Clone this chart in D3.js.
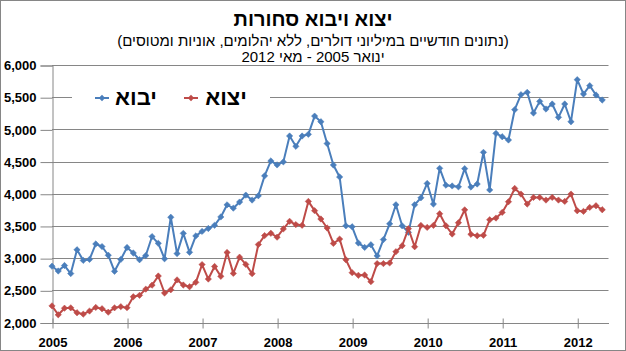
<!DOCTYPE html>
<html><head><meta charset="utf-8">
<script src="https://cdn.jsdelivr.net/npm/d3@7/dist/d3.min.js"></script>
<style>
html,body{margin:0;padding:0;background:#fff;}
svg{display:block;font-family:"Liberation Sans",Arial,sans-serif;}
</style></head>
<body><svg id="chart" width="626" height="351"></svg>
<script>
// ---- data ----
const titleText = "יצוא ויבוא סחורות";
const subtitleText = "(נתונים חודשיים במיליוני דולרים, ללא יהלומים, אוניות ומטוסים)";
const periodText = "ינואר 2005 - מאי 2012";
const seriesNames = ["יבוא", "יצוא"];
const yearLabels = ["2005","2006","2007","2008","2009","2010","2011","2012"];
const yTicks = [2000,2500,3000,3500,4000,4500,5000,5500,6000];
const imports = [2875,2800,2885,2760,3130,2965,2980,3220,3180,3045,2795,2980,
  3165,3080,2975,3040,3335,3230,2990,3635,3070,3385,3090,3345,
  3415,3460,3510,3640,3828,3776,3871,3979,3902,3969,4278,4510,
  4448,4495,4897,4737,4897,4923,5206,5119,4780,4447,4261,3502,
  3487,3234,3166,3208,3035,3288,3533,3829,3502,3400,3829,3937,
  4160,3839,4395,4133,4121,4107,4390,4104,4151,4643,4060,4938,
  4886,4835,5306,5539,5575,5254,5435,5316,5394,5187,5394,5119,
  5772,5549,5679,5534,5456];
const exports = [2258,2120,2222,2228,2152,2130,2178,2234,2214,2160,2228,2246,
  2230,2400,2422,2518,2580,2722,2458,2508,2662,2582,2555,2624,
  2900,2675,2870,2717,3088,2763,3015,2902,2758,3211,3350,3386,
  3325,3454,3572,3521,3510,3881,3737,3608,3468,3228,3296,2975,
  2774,2733,2738,2634,2915,2915,2925,3100,3192,3458,3177,3508,
  3477,3508,3689,3503,3374,3550,3750,3370,3348,3355,3596,3622,
  3710,3876,4083,3995,3840,3943,3943,3902,3943,3902,3881,3995,
  3736,3726,3788,3814,3752];
const colors = ["#4a7ebb", "#be4b48"];

// ---- layout ----
const svg = d3.select("#chart");
const W = 626, H = 351;
const mLeft = 52, mRight = 608.5, mTop = 65, mBottom = 322.5;
const x = d3.scaleLinear().domain([0, 89]).range([mLeft, mRight]);
const y = d3.scaleLinear().domain([2000, 6000]).range([mBottom, mTop]);

svg.append("rect").attr("x",0).attr("y",0).attr("width",W).attr("height",H).attr("fill","#fff");
svg.append("rect").attr("x",0.5).attr("y",0.5).attr("width",W-1).attr("height",H-1)
  .attr("fill","none").attr("stroke","#868686");

// titles
svg.append("text").attr("x",313).attr("y",26).attr("text-anchor","middle")
  .attr("font-size",20).attr("font-weight","bold").text(titleText);
svg.append("text").attr("x",313).attr("y",46).attr("text-anchor","middle")
  .attr("font-size",15).text(subtitleText);
svg.append("text").attr("x",313).attr("y",62).attr("text-anchor","middle")
  .attr("font-size",15).text(periodText);

// gridlines
svg.append("g").selectAll("line").data(yTicks.filter(d=>d>2000)).join("line")
  .attr("x1",mLeft).attr("x2",mRight).attr("y1",d=>Math.round(y(d))+0.5).attr("y2",d=>Math.round(y(d))+0.5)
  .attr("stroke","#868686").attr("stroke-width",1);

// y axis
const yAxis = d3.axisLeft(y).tickValues(yTicks).tickFormat(d3.format(",")).tickSize(12).tickPadding(4);
const gy = svg.append("g").attr("transform",`translate(${mLeft+0.5},0.5)`).call(yAxis);
gy.selectAll("line,path").attr("stroke","#868686");
gy.selectAll("text").attr("font-size",13).attr("font-weight","bold").attr("fill","#000")
  .attr("font-family","'Liberation Sans',Arial,sans-serif");

// x axis (crossing ticks)
const xTickIdx = yearLabels.map((d,i)=>i*12);
const xAxis = d3.axisBottom(x).tickValues(xTickIdx).tickFormat((d,i)=>yearLabels[i]).tickSize(0).tickPadding(14);
const gx = svg.append("g").attr("transform",`translate(0.5,${Math.round(mBottom)+0.5})`).call(xAxis);
gx.select("path").attr("stroke","#868686").attr("d",`M${mLeft},0H${mRight}`);
gx.selectAll(".tick").append("line").attr("y1",-5).attr("y2",5).attr("stroke","#868686");
gx.selectAll("text").attr("font-size",13).attr("font-weight","bold").attr("fill","#000")
  .attr("font-family","'Liberation Sans',Arial,sans-serif");

// series
const diamond = d3.symbol().type(d3.symbolSquare).size(20);
[imports, exports].forEach((vals, k) => {
  const line = d3.line().x((d,i)=>x(i)).y(d=>y(d));
  svg.append("path").datum(vals).attr("d",line).attr("fill","none")
    .attr("stroke",colors[k]).attr("stroke-width",2).attr("stroke-linejoin","round");
  svg.append("g").selectAll("path").data(vals).join("path")
    .attr("d",diamond).attr("transform",(d,i)=>`translate(${x(i)},${y(d)}) rotate(45)`)
    .attr("fill",colors[k]).attr("stroke",colors[k]).attr("stroke-width",0.5);
});

// legend
const lg = svg.append("g");
lg.append("rect").attr("x",72).attr("y",82).attr("width",198).attr("height",30).attr("fill","#fff");
const legendItems = [{name:seriesNames[0], lx:95, tx:136, c:colors[0]},{name:seriesNames[1], lx:184, tx:226, c:colors[1]}];
legendItems.forEach(it=>{
  lg.append("line").attr("x1",it.lx).attr("x2",it.lx+14).attr("y1",98).attr("y2",98)
    .attr("stroke",it.c).attr("stroke-width",2);
  lg.append("path").attr("d",diamond).attr("transform",`translate(${it.lx+7},98) rotate(45)`).attr("fill",it.c);
  lg.append("text").attr("x",it.tx).attr("y",105).attr("text-anchor","middle")
    .attr("font-size",22).attr("font-weight","bold").text(it.name);
});
</script></body></html>
